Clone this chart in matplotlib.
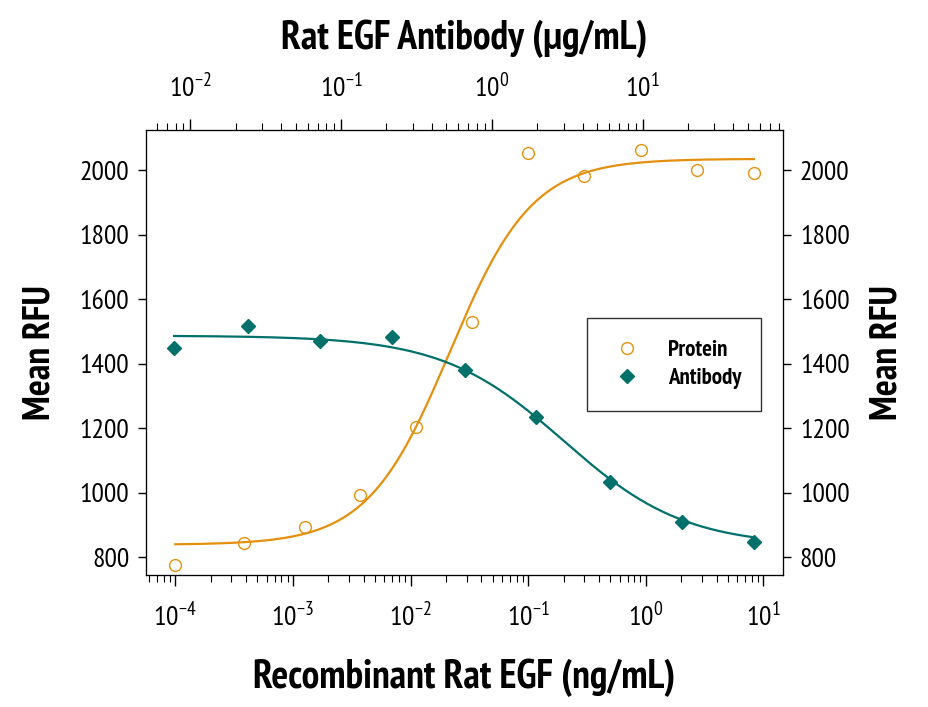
import numpy as np
import matplotlib
matplotlib.use("Agg")
import matplotlib.pyplot as plt
from matplotlib import ticker

# values
protein_conc = [1.0e-4, 3.85e-4, 1.27e-3, 3.7e-3, 0.0112, 0.0335, 0.100, 0.300, 0.910, 2.75, 8.3]   # ng/mL
protein_rfu = [775, 843, 893, 992, 1205, 1530, 2053, 1982, 2062, 2000, 1991]

antibody_conc = [0.0078, 0.0241, 0.0728, 0.219, 0.66, 1.98, 6.1, 18.3, 55.0]   # ug/mL
antibody_rfu = [1450, 1518, 1471, 1484, 1381, 1236, 1032, 911, 849]

# 4-parameter logistic fits (low, high, ec50, hill) estimated from the drawn curves
protein_fit = (839, 2035, 0.0216, 1.24)
antibody_fit = (835, 1487, 3.0, -1.08)

bottom_ticks = [1e-4, 1e-3, 1e-2, 1e-1, 1e0, 1e1]
top_ticks = [1e-2, 1e-1, 1e0, 1e1]
y_ticks = [800, 1000, 1200, 1400, 1600, 1800, 2000]

orange = "#E4900F"
teal = "#00706A"

plt.rcParams['font.family'] = ['PT Sans Narrow', 'DejaVu Sans']
plt.rcParams['mathtext.fontset'] = 'custom'
plt.rcParams['mathtext.rm'] = 'PT Sans Narrow'


def four_pl(x, low, high, ec50, hill):
    # hill < 0 gives a falling curve
    return low + (high - low) / (1 + (ec50 / x) ** hill)


def pow_label(v, pos):
    return r'$\mathregular{10^{%d}}$' % int(round(np.log10(v)))


fig = plt.figure(figsize=(9.29, 7.07), dpi=100)
ax = fig.add_axes([0.157, 0.187, 0.686, 0.629])
ax_top = ax.twiny()
ax_right = ax.twinx()

# protein on bottom axis
xs = np.logspace(np.log10(protein_conc[0]), np.log10(protein_conc[-1]), 300)
ax.plot(xs, four_pl(xs, *protein_fit), color=orange, lw=1.6)
ax.plot(protein_conc, protein_rfu, 'o', mfc='none', mec=orange, ms=8.5, mew=1.0, label='Protein')

# antibody on top axis
xs2 = np.logspace(np.log10(antibody_conc[0]), np.log10(antibody_conc[-1]), 300)
ax_top.plot(xs2, four_pl(xs2, *antibody_fit), color=teal, lw=1.6)
ax_top.plot(antibody_conc, antibody_rfu, 'D', color=teal, ms=7, label='Antibody')

ax.set_xscale('log')
ax_top.set_xscale('log')
ax.set_xlim(10 ** -4.25, 10 ** 1.168)
ax_top.set_xlim(10 ** -2.295, 10 ** 1.933)
for a in (ax, ax_top, ax_right):
    a.set_ylim(746, 2124)

for a in (ax, ax_top):
    a.xaxis.set_major_formatter(ticker.FuncFormatter(pow_label))
    a.xaxis.set_minor_locator(ticker.LogLocator(base=10, subs=np.arange(2, 10), numticks=20))
    a.xaxis.set_minor_formatter(ticker.NullFormatter())
    a.tick_params(axis='x', which='major', length=8, width=1, labelsize=20, pad=12)
    a.tick_params(axis='x', which='minor', length=5, width=0.8)
ax.set_xticks(bottom_ticks)
ax_top.set_xticks(top_ticks)
ax.set_yticks(y_ticks)
ax_right.set_yticks(y_ticks)
ax.tick_params(axis='y', length=6, width=1, labelsize=20, pad=6)
ax_right.tick_params(axis='y', length=6, width=1, labelsize=20, pad=6)

ax.set_xlabel('Recombinant Rat EGF (ng/mL)', fontsize=28.5, fontweight='bold', labelpad=20)
ax_top.set_xlabel('Rat EGF Antibody (\u03bcg/mL)', fontsize=28.5, fontweight='bold', labelpad=18)
ax.set_ylabel('Mean RFU', fontsize=27, fontweight='bold', labelpad=16)
ax_right.set_ylabel('Mean RFU', fontsize=27, fontweight='bold', labelpad=14, rotation=90)

h1, l1 = ax.get_legend_handles_labels()
h2, l2 = ax_top.get_legend_handles_labels()
leg = ax_right.legend(h1 + h2, l1 + l2, loc='center', bbox_to_anchor=(0.692, 0.373, 0.273, 0.2),
                      mode='expand', fontsize=16.5, frameon=True, fancybox=False, edgecolor='black',
                      handlelength=1.6, borderpad=0.95, labelspacing=0.3, handletextpad=1.0,
                      borderaxespad=0)
leg.get_frame().set_linewidth(1.0)
for t in leg.get_texts():
    t.set_fontweight('bold')

fig.savefig('out.png', dpi=100)
